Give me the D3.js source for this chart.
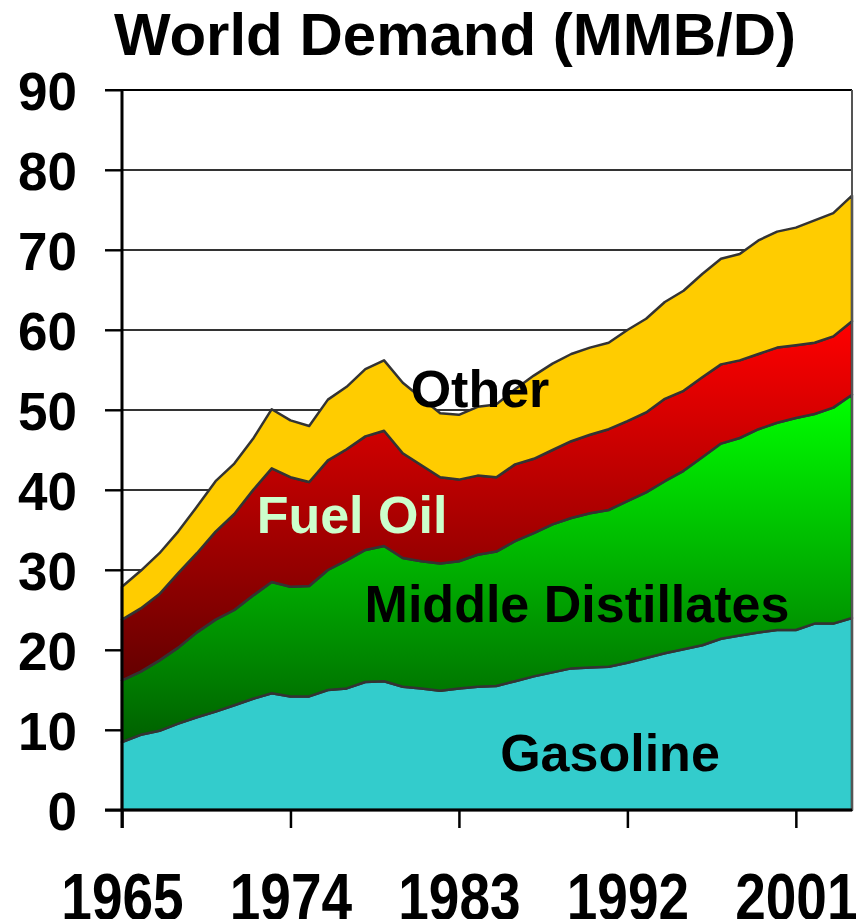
<!DOCTYPE html>
<html>
<head>
<meta charset="utf-8">
<script src="https://cdn.jsdelivr.net/npm/d3@7"></script>
<style>
	body { margin: 0; background: #fff; }
	svg { display: block; font-family: 'Liberation Sans', Arial, sans-serif; font-weight: bold; }
</style>
</head>
<body>
<div id="chart"></div>
<script>
// world oil demand by product, million barrels per day
var years = d3.range(1965, 2005)
var gasoline = [8.5, 9.4, 9.9, 10.8, 11.6, 12.3, 13.1, 13.9, 14.6, 14.2,
	14.2, 15.0, 15.2, 16.0, 16.1, 15.4, 15.2, 14.9, 15.2, 15.4,
	15.5, 16.1, 16.7, 17.2, 17.7, 17.8, 17.9, 18.4, 19.0, 19.6,
	20.1, 20.6, 21.4, 21.8, 22.2, 22.5, 22.5, 23.3, 23.3, 24.0]
var middleDistillates = [7.7, 7.9, 8.8, 9.5, 10.6, 11.5, 11.9, 12.9, 13.9, 13.7,
	13.8, 15.0, 16.0, 16.5, 16.9, 16.1, 15.9, 15.9, 15.9, 16.5,
	16.8, 17.5, 17.9, 18.5, 18.8, 19.3, 19.6, 20.2, 20.7, 21.5,
	22.3, 23.5, 24.4, 24.7, 25.4, 25.9, 26.5, 26.2, 27.0, 27.9]
var fuelOil = [7.6, 7.9, 8.3, 9.3, 9.9, 11.0, 12.0, 13.2, 14.2, 13.7,
	13.0, 13.7, 13.9, 14.2, 14.4, 13.1, 12.0, 10.8, 10.2, 9.9,
	9.3, 9.6, 9.3, 9.3, 9.6, 9.8, 10.1, 10.0, 10.0, 10.3,
	10.0, 10.0, 9.9, 9.7, 9.4, 9.4, 9.1, 8.9, 8.9, 9.2]
var other = [4.1, 4.7, 5.1, 5.2, 5.8, 6.3, 6.3, 6.4, 7.4, 7.1,
	7.0, 7.6, 7.8, 8.4, 8.8, 8.8, 8.4, 8.0, 8.1, 8.6,
	9.1, 9.4, 10.4, 10.8, 10.9, 10.9, 10.8, 11.4, 11.7, 12.1,
	12.5, 12.9, 13.2, 13.3, 14.2, 14.5, 14.7, 15.3, 15.4, 15.7]
var yTicks = [0, 10, 20, 30, 40, 50, 60, 70, 80, 90]
var xTicks = [1965, 1974, 1983, 1992, 2001]
var keys = ['gasoline', 'middle', 'fuel', 'other']

function createChart() {
	let width = 856
	let height = 919
	var margin = { top: 90, right: 4, bottom: 109, left: 122 }

	const svg = d3.select('#chart').append('svg')
		.attr('width', width)
		.attr('height', height)

	var rows = years.map((y, i) => ({
		year: y,
		gasoline: gasoline[i],
		middle: middleDistillates[i],
		fuel: fuelOil[i],
		other: other[i]
	}))
	var series = d3.stack().keys(keys)(rows)

	var x = d3.scaleLinear()
		.domain([1965, 2004])
		.range([margin.left, width - margin.right])
	var y = d3.scaleLinear()
		.domain([0, 90])
		.range([height - margin.bottom, margin.top])

	// gradients for the two shaded bands
	var defs = svg.append('defs')
	function grad(id, top, bottom) {
		var g = defs.append('linearGradient')
			.attr('id', id)
			.attr('x1', 0).attr('y1', 0)
			.attr('x2', 0).attr('y2', 1)
		g.append('stop').attr('offset', '0%').attr('stop-color', top)
		g.append('stop').attr('offset', '100%').attr('stop-color', bottom)
	}
	grad('gradMiddle', '#00ff00', '#006000')
	grad('gradFuel', '#ff0000', '#640000')

	var fills = {
		gasoline: '#33cccc',
		middle: 'url(#gradMiddle)',
		fuel: 'url(#gradFuel)',
		other: '#ffcc00'
	}

	// gridlines
	svg.append('g')
		.selectAll('line')
		.data(yTicks.filter(d => d > 0))
		.enter()
		.append('line')
		.attr('x1', margin.left - 17)
		.attr('x2', width - margin.right)
		.attr('y1', d => y(d))
		.attr('y2', d => y(d))
		.attr('stroke', d => d == 90 ? '#000' : '#333')
		.attr('stroke-width', 2)

	var area = d3.area()
		.x(d => x(d.data.year))
		.y0(d => y(d[0]))
		.y1(d => y(d[1]))

	svg.append('g')
		.selectAll('path')
		.data(series)
		.enter()
		.append('path')
		.attr('d', area)
		.attr('fill', d => fills[d.key])
		.attr('stroke', '#333')
		.attr('stroke-width', 2.5)
		.attr('stroke-linejoin', 'round')

	// right border
	svg.append('line')
		.attr('x1', x(2004)).attr('x2', x(2004))
		.attr('y1', y(90)).attr('y2', y(0))
		.attr('stroke', '#555')
		.attr('stroke-width', 2)

	// axes
	var yAxis = svg.append('g')
		.attr('transform', `translate(${margin.left},0)`)
		.call(d3.axisLeft(y).tickValues(yTicks).tickSize(17).tickFormat(d3.format('d')))
	var xAxis = svg.append('g')
		.attr('transform', `translate(0,${y(0)})`)
		.call(d3.axisBottom(x).tickValues(xTicks).tickSize(18).tickFormat(d3.format('d')))

	yAxis.select('.domain').remove()
	xAxis.select('.domain').remove()
	yAxis.selectAll('.tick line').attr('stroke', '#000').attr('stroke-width', 2)
	xAxis.selectAll('.tick line').attr('stroke', '#000').attr('stroke-width', 2.5)

	yAxis.selectAll('.tick text')
		.attr('x', -45)
		.attr('dy', '0.36em')
		.attr('fill', '#000')
		.style('font-size', '53px')
		.style('font-family', "'Liberation Sans', Arial, sans-serif")
		.style('font-weight', 'bold')

	// year labels are drawn a bit taller than wide, and run off the bottom edge
	xAxis.selectAll('.tick text')
		.attr('y', 110 / 1.2)
		.attr('dy', 0)
		.attr('transform', 'scale(1,1.2)')
		.attr('fill', '#000')
		.style('font-size', '55px')
		.style('font-family', "'Liberation Sans', Arial, sans-serif")
		.style('font-weight', 'bold')

	svg.append('line')
		.attr('x1', margin.left).attr('x2', margin.left)
		.attr('y1', y(90)).attr('y2', y(0) + 18)
		.attr('stroke', '#000')
		.attr('stroke-width', 3)
	svg.append('line')
		.attr('x1', margin.left - 17).attr('x2', width - margin.right)
		.attr('y1', y(0)).attr('y2', y(0))
		.attr('stroke', '#000')
		.attr('stroke-width', 3)

	// title
	svg.append('text')
		.attr('x', 455)
		.attr('y', 55)
		.attr('text-anchor', 'middle')
		.style('font-size', '60px')
		.text('World Demand (MMB/D)')

	// band labels
	var labels = [
		{ text: 'Other', x: 480, y: 407, fill: '#000' },
		{ text: 'Fuel Oil', x: 352, y: 533, fill: '#ccffcc' },
		{ text: 'Middle Distillates', x: 577, y: 622, fill: '#000' },
		{ text: 'Gasoline', x: 610, y: 771, fill: '#000' }
	]
	svg.append('g')
		.selectAll('text')
		.data(labels)
		.enter()
		.append('text')
		.attr('x', d => d.x)
		.attr('y', d => d.y)
		.attr('text-anchor', 'middle')
		.attr('fill', d => d.fill)
		.style('font-size', '52px')
		.text(d => d.text)
}

createChart()
</script>
</body>
</html>
